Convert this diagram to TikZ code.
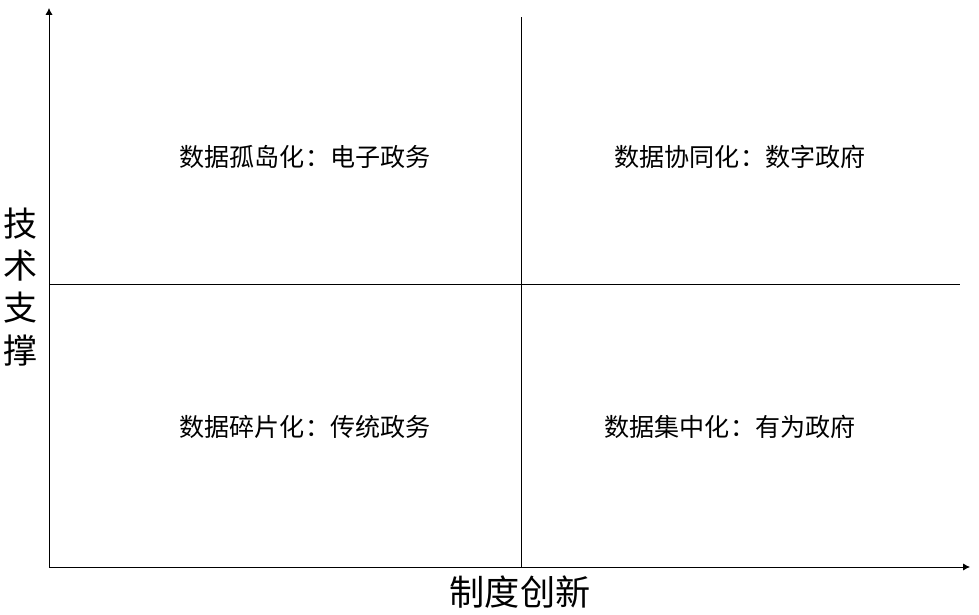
\documentclass[tikz,border=0pt]{standalone}
\usepackage{fontspec}
\setmainfont{Noto Sans CJK SC}
\usetikzlibrary{positioning,arrows.meta}
\tikzset{
  quad/.style={font=\fontsize{21.4}{25}\selectfont},
  axislabel/.style={font=\fontsize{30}{36}\selectfont},
}
\begin{document}
\begin{tikzpicture}[x=0.03cm,y=0.03cm,>={Latex[length=2.1mm,width=2.2mm]}]
    \useasboundingbox (0,0) rectangle (979,614);
    \coordinate (O) at (49,47);
    \coordinate (ytop) at (49,606);
    \coordinate (xend) at (970,47);
    \coordinate (vtop) at (521,597);
    \coordinate (vbot) at (521,47);
    \coordinate (hleft) at (49,330);
    \coordinate (hright) at (960,330);

    % axes
    \draw[line width=0.8pt,->] (O) -- (ytop);
    \draw[line width=0.8pt,->] (O) -- (xend);
    % dividers
    \draw[line width=0.7pt] (vbot) -- (vtop);
    \draw[line width=0.7pt] (hleft) -- (hright);

    \node[quad] (isolated) at (305,457) {数据孤岛化：电子政务};
    \node[quad] (collab) at (740,457) {数据协同化：数字政府};
    \node[quad] (fragment) at (305,187) {数据碎片化：传统政务};
    \node[quad] (central) at (730,187) {数据集中化：有为政府};

    \node[axislabel] (xlabel) at (520,22) {制度创新};
    \node[axislabel,align=center,font=\fontsize{29}{36}\selectfont] (ylabel) at (20,327) {技\\术\\支\\撑};
\end{tikzpicture}
\end{document}
